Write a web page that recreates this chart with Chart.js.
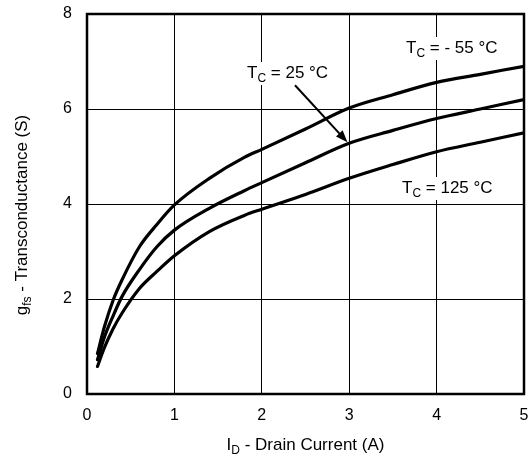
<!DOCTYPE html>
<html>
<head>
<meta charset="utf-8">
<script src="https://cdn.jsdelivr.net/npm/chart.js@4/dist/chart.umd.min.js"></script>
<style>
  html, body { margin: 0; padding: 0; background: #fff; }
  #wrap { width: 529px; height: 460px; position: relative; }
</style>
</head>
<body>
<div id="wrap"><canvas id="gfsChart" width="529" height="460"></canvas></div>
<script>
// drain current values (A)
var drainCurrent = [0.12, 0.2, 0.3, 0.4, 0.6, 0.8, 1, 1.4, 1.8, 2, 2.5, 3, 3.5, 4, 4.5, 5];
// transconductance (S) per case temperature
var gfsMinus55 = [0.85, 1.42, 1.98, 2.4, 3.1, 3.57, 3.98, 4.54, 4.98, 5.15, 5.58, 6.02, 6.3, 6.56, 6.73, 6.9];
var gfs25      = [0.72, 1.2, 1.65, 2.05, 2.62, 3.1, 3.45, 3.91, 4.28, 4.45, 4.87, 5.28, 5.55, 5.8, 6.0, 6.2];
var gfs125     = [0.58, 0.98, 1.38, 1.7, 2.22, 2.58, 2.91, 3.42, 3.76, 3.89, 4.2, 4.54, 4.83, 5.1, 5.3, 5.5];
var xTicks = [0, 1, 2, 3, 4, 5];
var yTicks = [0, 2, 4, 6, 8];

var FONT = '"Liberation Sans", Arial, Helvetica, sans-serif';

function toPoints(xs, ys) {
	var pts = [];
	for (var i = 0; i < xs.length; i++) {
		pts.push({x: xs[i], y: ys[i]});
	}
	return pts;
}

function curve(label, ys) {
	return {
		label: label,
		data: toPoints(drainCurrent, ys),
		borderColor: '#000',
		borderWidth: 3.2,
		pointRadius: 0,
		fill: false,
		cubicInterpolationMode: 'monotone',
		borderCapStyle: 'round',
		borderJoinStyle: 'round'
	};
}

// draws text made of [text, isSub] pieces, returns width
function drawPieces(ctx, pieces, x, y, size, subSize, measureOnly) {
	var cx = x;
	for (var i = 0; i < pieces.length; i++) {
		var p = pieces[i];
		ctx.font = (p[1] ? subSize : size) + 'px ' + FONT;
		if (!measureOnly) {
			ctx.fillText(p[0], cx, p[1] ? y + 4 : y);
		}
		cx += ctx.measureText(p[0]).width;
	}
	return cx - x;
}

function label(ctx, pieces, x, y, whiteBg) {
	ctx.save();
	ctx.textBaseline = 'alphabetic';
	ctx.textAlign = 'left';
	var w = drawPieces(ctx, pieces, x, y, 17, 12, true);
	if (whiteBg) {
		ctx.fillStyle = '#fff';
		ctx.fillRect(x - 3, y - 16, w + 6, 23);
	}
	ctx.fillStyle = '#000';
	drawPieces(ctx, pieces, x, y, 17, 12, false);
	ctx.restore();
}

var extrasPlugin = {
	id: 'extras',
	afterDraw: function(chart) {
		var ctx = chart.ctx;
		var a = chart.chartArea;
		var xs = chart.scales.x, ys = chart.scales.y;

		// frame round the plot
		ctx.save();
		ctx.strokeStyle = '#000';
		ctx.lineWidth = 2.5;
		ctx.strokeRect(a.left, a.top, a.right - a.left, a.bottom - a.top);
		ctx.restore();

		// curve labels
		label(ctx, [['T', false], ['C', true], [' = - 55 °C', false]], 406, 53, true);
		label(ctx, [['T', false], ['C', true], [' = 25 °C', false]], 247, 78, true);
		label(ctx, [['T', false], ['C', true], [' = 125 °C', false]], 402, 193, true);

		// arrow to the 25 C curve
		var x0 = xs.getPixelForValue(2.38), y0 = ys.getPixelForValue(6.5);
		var x1 = xs.getPixelForValue(2.98), y1 = ys.getPixelForValue(5.3);
		ctx.save();
		ctx.strokeStyle = '#000';
		ctx.fillStyle = '#000';
		ctx.lineWidth = 2;
		var ang = Math.atan2(y1 - y0, x1 - x0);
		ctx.beginPath();
		ctx.moveTo(x0, y0);
		ctx.lineTo(x1 - 9 * Math.cos(ang), y1 - 9 * Math.sin(ang));
		ctx.stroke();
		ctx.beginPath();
		ctx.moveTo(x1, y1);
		ctx.lineTo(x1 - 12 * Math.cos(ang) + 4.5 * Math.sin(ang), y1 - 12 * Math.sin(ang) - 4.5 * Math.cos(ang));
		ctx.lineTo(x1 - 12 * Math.cos(ang) - 4.5 * Math.sin(ang), y1 - 12 * Math.sin(ang) + 4.5 * Math.cos(ang));
		ctx.closePath();
		ctx.fill();
		ctx.restore();

		// axis titles with subscripts
		ctx.save();
		ctx.fillStyle = '#000';
		ctx.textBaseline = 'alphabetic';
		var xt = [['I', false], ['D', true], [' - Drain Current (A)', false]];
		var wx = drawPieces(ctx, xt, 0, 0, 17, 12, true);
		drawPieces(ctx, xt, (a.left + a.right) / 2 - wx / 2, 450, 17, 12, false);

		var yt = [['g', false], ['fs', true], [' - Transconductance (S)', false]];
		var wy = drawPieces(ctx, yt, 0, 0, 17, 12, true);
		ctx.translate(27, 215);
		ctx.rotate(-Math.PI / 2);
		drawPieces(ctx, yt, -wy / 2, 0, 17, 12, false);
		ctx.restore();
	}
};

var ctx = document.getElementById('gfsChart').getContext('2d');

var gfsChart = new Chart(ctx, {
	type: 'line',
	data: {
		datasets: [
			curve('TC = -55 °C', gfsMinus55),
			curve('TC = 25 °C', gfs25),
			curve('TC = 125 °C', gfs125)
		]
	},
	options: {
		responsive: false,
		animation: false,
		layout: { padding: { left: 0, top: 14, right: 5, bottom: 0 } },
		plugins: {
			legend: { display: false },
			tooltip: { enabled: false }
		},
		scales: {
			x: {
				type: 'linear',
				min: 0,
				max: 5,
				afterBuildTicks: function(scale) {
					scale.ticks = xTicks.map(function(v) { return {value: v}; });
				},
				afterFit: function(scale) {
					scale.height = 66;
					scale.paddingLeft = 0;
					scale.paddingRight = 0;
				},
				grid: { color: '#000', lineWidth: 1, drawTicks: false },
				border: { display: false },
				ticks: {
					color: '#000',
					padding: 12,
					maxRotation: 0,
					font: { family: FONT, size: 16 }
				}
			},
			y: {
				type: 'linear',
				min: 0,
				max: 8,
				afterBuildTicks: function(scale) {
					scale.ticks = yTicks.map(function(v) { return {value: v}; });
				},
				afterFit: function(scale) {
					scale.width = 87;
					scale.paddingTop = 0;
					scale.paddingBottom = 0;
				},
				grid: { color: '#000', lineWidth: 1, drawTicks: false },
				border: { display: false },
				ticks: {
					color: '#000',
					padding: 15,
					font: { family: FONT, size: 16 }
				}
			}
		}
	},
	plugins: [extrasPlugin]
});
</script>
</body>
</html>
